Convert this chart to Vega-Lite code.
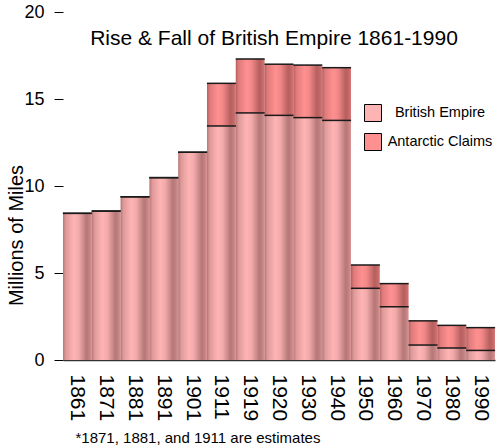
{
  "$schema": "https://vega.github.io/schema/vega-lite/v6.json",
  "description": "Rise & Fall of British Empire 1861-1990",
  "autosize": "none",
  "padding": {"left": 63, "top": 12, "right": 5, "bottom": 88},
  "width": 432,
  "height": 348,
  "title": {
    "text": "Rise & Fall of British Empire 1861-1990",
    "font": "Liberation Sans",
    "fontSize": 21,
    "fontWeight": "normal",
    "color": "#000000",
    "baseline": "alphabetic",
    "anchor": "middle",
    "dx": -5,
    "offset": -63
  },
  "config": {
    "font": "Liberation Sans",
    "view": {"stroke": null},
    "axis": {"grid": false, "labelColor": "#000000", "titleColor": "#000000"}
  },
  "data": {
    "values": [
      {"year": "1861", "be": 8.43, "total": 8.43},
      {"year": "1871", "be": 8.56, "total": 8.56},
      {"year": "1881", "be": 9.38, "total": 9.38},
      {"year": "1891", "be": 10.48, "total": 10.48},
      {"year": "1901", "be": 11.94, "total": 11.94},
      {"year": "1911", "be": 13.45, "total": 15.9},
      {"year": "1919", "be": 14.2, "total": 17.3},
      {"year": "1920", "be": 14.06, "total": 17.0},
      {"year": "1930", "be": 13.93, "total": 16.95},
      {"year": "1940", "be": 13.77, "total": 16.8},
      {"year": "1950", "be": 4.12, "total": 5.46},
      {"year": "1960", "be": 3.06, "total": 4.39},
      {"year": "1970", "be": 0.86, "total": 2.25},
      {"year": "1980", "be": 0.69, "total": 1.99},
      {"year": "1990", "be": 0.55, "total": 1.86}
    ]
  },
  "encoding": {
    "x": {
      "field": "year",
      "type": "ordinal",
      "scale": {"paddingInner": 0, "paddingOuter": 0},
      "axis": {
        "title": "*1871, 1881, and 1911 are estimates",
        "titleFontSize": 15,
        "titleFontWeight": "normal",
        "titleAlign": "left",
        "titleAnchor": "start",
        "titleBaseline": "alphabetic",
        "titleX": 12,
        "titleY": 82,
        "labelAngle": 90,
        "labelAlign": "left",
        "labelBaseline": "middle",
        "labelFontSize": 21,
        "labelPadding": 14,
        "ticks": false,
        "domainColor": "#333333",
        "domainWidth": 1.5
      }
    }
  },
  "layer": [
    {
      "mark": {"type": "bar"},
      "encoding": {
        "y": {
          "field": "be",
          "type": "quantitative",
          "scale": {"domain": [0, 20]},
          "axis": {
            "values": [0, 5, 10, 15, 20],
            "title": "Millions of Miles",
            "titleFontSize": 20,
            "titleFontWeight": "normal",
            "titleBaseline": "alphabetic",
            "titleX": -41,
            "titleY": 223,
            "labelFontSize": 18,
            "labelPadding": 10,
            "tickSize": 9,
            "tickColor": "#000000",
            "domain": false
          }
        },
        "color": {
          "datum": "British Empire",
          "scale": {
            "domain": ["British Empire", "Antarctic Claims"],
            "range": ["#ffb4b4", "#ff9090"]
          },
          "legend": {
            "title": null,
            "orient": "none",
            "legendX": 301,
            "legendY": 92,
            "padding": 0,
            "symbolType": "square",
            "symbolSize": 289,
            "symbolStrokeColor": "#000000",
            "symbolStrokeWidth": 1,
            "symbolOpacity": 1,
            "labelFontSize": 14.5,
            "labelAlign": "center",
            "labelOffset": 58,
            "rowPadding": 7,
            "labelColor": "#000000"
          }
        }
      }
    },
    {
      "mark": {"type": "bar"},
      "encoding": {
        "y": {"field": "total", "type": "quantitative"},
        "y2": {"field": "be"},
        "color": {"datum": "Antarctic Claims"}
      }
    },
    {
      "mark": {
        "type": "bar",
        "fill": {
          "gradient": "linear",
          "x1": 0, "y1": 0, "x2": 1, "y2": 0,
          "stops": [
            {"offset": 0, "color": "rgba(40,0,0,0.34)"},
            {"offset": 0.1, "color": "rgba(40,0,0,0.15)"},
            {"offset": 0.38, "color": "rgba(40,0,0,0)"},
            {"offset": 0.55, "color": "rgba(40,0,0,0.06)"},
            {"offset": 0.82, "color": "rgba(40,0,0,0.34)"},
            {"offset": 0.93, "color": "rgba(40,0,0,0.27)"},
            {"offset": 1, "color": "rgba(40,0,0,0.17)"}
          ]
        }
      },
      "encoding": {
        "y": {"field": "total", "type": "quantitative"}
      }
    },
    {
      "mark": {"type": "tick", "size": 29, "thickness": 1.5, "color": "#1a1a1a", "opacity": 1},
      "encoding": {
        "y": {"field": "be", "type": "quantitative"}
      }
    },
    {
      "mark": {"type": "tick", "size": 29, "thickness": 1.5, "color": "#1a1a1a", "opacity": 1},
      "encoding": {
        "y": {"field": "total", "type": "quantitative"}
      }
    }
  ]
}
